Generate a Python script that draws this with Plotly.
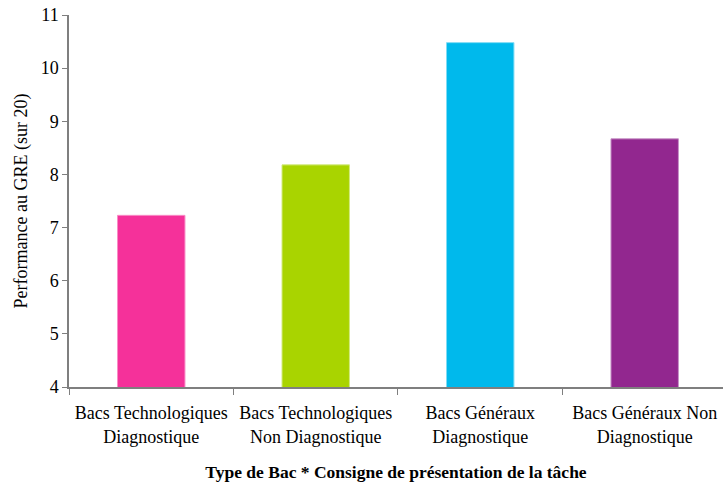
import plotly.graph_objects as go

# Mean GRE performance (out of 20) by bac type and task instruction
categories = [
    "Bacs Technologiques<br>Diagnostique",
    "Bacs Technologiques<br>Non Diagnostique",
    "Bacs Généraux<br>Diagnostique",
    "Bacs Généraux Non<br>Diagnostique",
]
scores = [7.23, 8.18, 10.48, 8.67]
colors = ["#F5319A", "#A9D400", "#00B9EC", "#92278F"]
edge_colors = ["#F98CC6", "#D2EA80", "#80DCF5", "#C693C7"]

y_ticks = [4, 5, 6, 7, 8, 9, 10, 11]

FONT = "Liberation Serif, Times New Roman, serif"
AXIS_GREY = "#7F7F7F"

fig = go.Figure(
    go.Bar(
        x=categories,
        y=scores,
        width=0.41,
        marker=dict(color=colors, line=dict(color=edge_colors, width=1)),
    )
)

fig.update_layout(
    width=723,
    height=486,
    margin=dict(l=69, r=0, t=15, b=99),
    paper_bgcolor="white",
    plot_bgcolor="white",
    showlegend=False,
    font=dict(family=FONT, size=18, color="black"),
)

fig.update_xaxes(
    range=[-0.5, 3.476],
    showline=True,
    linecolor=AXIS_GREY,
    linewidth=1.5,
    ticks="outside",
    tickson="boundaries",
    ticklen=6,
    tickcolor=AXIS_GREY,
    ticklabelstandoff=9,
    showgrid=False,
    automargin=False,
    tickfont=dict(family=FONT, size=18),
    title=dict(
        text="<b>Type de Bac * Consigne de présentation de la tâche</b>",
        font=dict(family=FONT, size=17.5),
        standoff=20,
    ),
)

fig.update_yaxes(
    range=[4, 11],
    tickvals=y_ticks,
    showline=True,
    linecolor=AXIS_GREY,
    linewidth=1.5,
    ticks="outside",
    ticklen=5,
    tickcolor=AXIS_GREY,
    showgrid=False,
    zeroline=False,
    automargin=False,
    tickfont=dict(family=FONT, size=18),
    title=dict(text="Performance au GRE (sur 20)", font=dict(family=FONT, size=18), standoff=8),
)

fig.write_html("out.html")
